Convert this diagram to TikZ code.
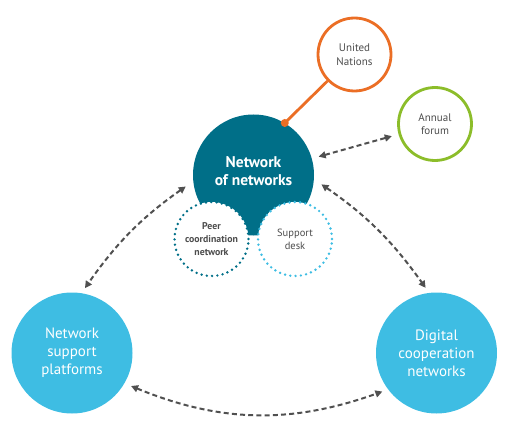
\documentclass[tikz,border=0pt]{standalone}
\usepackage{fontspec}
\setmainfont{PT Sans}
\usetikzlibrary{arrows.meta}
\definecolor{teal1}{HTML}{006F88}
\definecolor{lblue}{HTML}{3EBDE3}
\definecolor{orng}{HTML}{EB6E25}
\definecolor{grn}{HTML}{8CBD2A}
\definecolor{arrgray}{HTML}{505050}
\definecolor{txtgray}{HTML}{4D4D4D}
\tikzset{
  bigfill/.style={circle, minimum size=121pt, inner sep=0pt, align=center, text=white, font=\fontsize{15}{18}\selectfont},
  ring/.style={circle, minimum size=73pt, inner sep=0pt, line width=2.8pt, fill=white, align=center, text=txtgray, font=\fontsize{11}{13.5}\selectfont},
  dotring/.style={circle, minimum size=74pt, inner sep=0pt, fill=white, line width=2.7pt, line cap=round, dash pattern=on 0pt off 5.3pt, align=center, text=txtgray, font=\fontsize{10.5}{13}\selectfont},
  arr/.style={draw=arrgray, line width=2pt, dash pattern=on 5pt off 3.2pt, {Triangle[length=7pt,width=7pt]}-{Triangle[length=7pt,width=7pt]}, arrgray},
}
\begin{document}
\begin{tikzpicture}[x=1pt,y=-1pt]
\useasboundingbox (0,0) rectangle (514,433);
% main
\node[bigfill, fill=teal1] (non) at (253.5,175) {};
\node[text=white, align=center, font=\fontsize{15.5}{18}\selectfont\bfseries] (nontext) at (253.5,171.5) {Network\\of networks};
\node[dotring, draw=teal1, font=\fontsize{9.8}{13}\selectfont\bfseries] (peer) at (211.5,239) {Peer\\coordination\\network};
\node[dotring, draw=lblue] (sup) at (295,239) {Support\\desk};
% outer circles
\node[ring, draw=orng] (un) at (354.5,54.5) {United\\Nations};
\node[ring, draw=grn] (af) at (435,124) {Annual\\forum};
\node[bigfill, fill=lblue] (nsp) at (72,353) {Network\\support\\platforms};
\node[bigfill, fill=lblue] (dcn) at (436.5,353) {Digital\\cooperation\\networks};
% orange link
\coordinate (dot) at (non.59);
\draw[orng, line width=2.8pt] (dot) -- (un);
\fill[orng] (dot) circle (4pt);
% arrows
\draw[arr, shorten <=7pt, shorten >=7pt] (non) -- (af);
\draw[arr, shorten <=9pt, shorten >=6pt] (non.186) to[bend right=10] (nsp.81);
\draw[arr, shorten <=9pt, shorten >=6pt] (non.-4) to[bend left=10] (dcn.97);
\draw[arr, shorten <=7pt, shorten >=6pt] (nsp.-30) to[bend right=21] (dcn.217);
\end{tikzpicture}
\end{document}
